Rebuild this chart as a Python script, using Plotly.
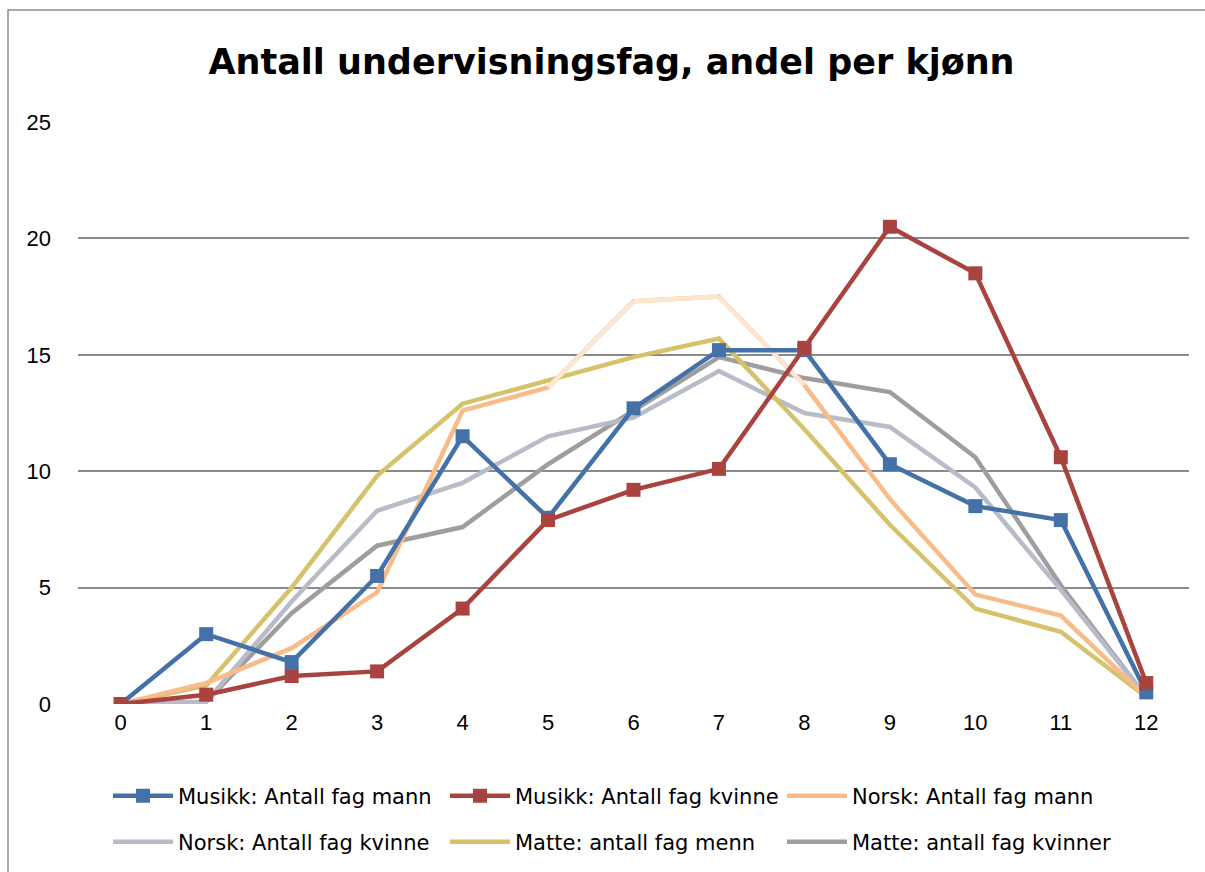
import plotly.graph_objects as go

x_vals = list(range(13))
musikk_mann = [0, 3.0, 1.8, 5.5, 11.5, 8.0, 12.7, 15.2, 15.2, 10.3, 8.5, 7.9, 0.5]
musikk_kvinne = [0, 0.4, 1.2, 1.4, 4.1, 7.9, 9.2, 10.1, 15.3, 20.5, 18.5, 10.6, 0.9]
norsk_mann = [0, 0.9, 2.4, 4.8, 12.6, 13.6, 17.3, 17.5, 13.7, 8.8, 4.7, 3.8, 0.3]
norsk_kvinne = [0, 0.1, 4.4, 8.3, 9.5, 11.5, 12.3, 14.3, 12.5, 11.9, 9.3, 4.9, 0.3]
matte_menn = [0, 0.8, 5.0, 9.8, 12.9, 13.9, 14.9, 15.7, 11.8, 7.7, 4.1, 3.1, 0.3]
matte_kvinner = [0, 0.1, 3.9, 6.8, 7.6, 10.3, 12.6, 14.9, 14.0, 13.4, 10.6, 5.1, 0.3]

fig = go.Figure()

LW = 4.5

def add(name, y, color, legend, rank, marker=False):
    fig.add_trace(go.Scatter(
        x=x_vals, y=y, name=name, legend=legend, legendrank=rank,
        mode="lines+markers" if marker else "lines",
        line=dict(color=color, width=LW),
        marker=dict(symbol="square", size=14, color=color) if marker else None,
    ))

def add_shaded(name, y, color, pale, legend, rank, thresh):
    # main trace (for legend), then pale overlay on high segments
    fig.add_trace(go.Scatter(
        x=x_vals, y=y, name=name, legend=legend, legendgroup=name, legendrank=rank,
        mode="lines", line=dict(color=color, width=LW),
    ))
    for i in range(len(x_vals) - 1):
        if (y[i] + y[i + 1]) / 2 > thresh:
            fig.add_trace(go.Scatter(
                x=x_vals[i:i + 2], y=y[i:i + 2], legendgroup=name,
                showlegend=False, mode="lines", hoverinfo="skip",
                line=dict(color=pale, width=LW),
            ))

add("Matte: antall fag kvinner", matte_kvinner, "#9E9E9E", "legend2", 6)
add("Norsk: Antall fag kvinne", norsk_kvinne, "#B8BCC8", "legend2", 4)
add("Matte: antall fag menn", matte_menn, "#D5C26A", "legend2", 5)
add_shaded("Norsk: Antall fag mann", norsk_mann, "#F9BC88", "#FCE6CF", "legend", 3, 15)
add("Musikk: Antall fag mann", musikk_mann, "#4471A8", "legend", 1, True)
add("Musikk: Antall fag kvinne", musikk_kvinne, "#A9433F", "legend", 2, True)

W, H = 1205, 872
L, R, T, B = 78, 16, 122, 168
pw = W - L - R
ph = H - T - B

leg_common = dict(
    orientation="h", xanchor="left", xref="container", yref="container",
    yanchor="middle", font=dict(size=21, family="DejaVu Sans, sans-serif", color="#000000"),
    entrywidth=262, entrywidthmode="pixels", itemwidth=60,
    traceorder="normal", bgcolor="rgba(0,0,0,0)",
)

fig.update_layout(
    width=W, height=H,
    margin=dict(l=L, r=R, t=T, b=B, autoexpand=False),
    paper_bgcolor="white", plot_bgcolor="white",
    font=dict(family="Liberation Sans, Arial, sans-serif", color="#000000", size=22),
    title=dict(
        text="<b>Antall undervisningsfag, andel per kjønn</b>",
        x=(210 + 1013) / 2 / W, xanchor="center", xref="container",
        y=1 - 62 / H, yanchor="middle", yref="container",
        font=dict(size=35, family="DejaVu Sans, sans-serif", color="#000000"),
    ),
    xaxis=dict(
        range=[-0.5, 12.5], tickmode="array", tickvals=x_vals,
        ticktext=[str(v) for v in x_vals],
        showgrid=False, zeroline=False, showline=False,
        ticks="", tickfont=dict(size=22), fixedrange=True,
        ticklabelstandoff=3,
    ),
    yaxis=dict(
        range=[0, 25], tickmode="array", tickvals=[0, 5, 10, 15, 20, 25],
        showgrid=True, gridcolor="#8A8A8A", gridwidth=1.5,
        zeroline=False, showline=False, ticks="",
        tickfont=dict(size=22), ticklabelstandoff=26,
    ),
    legend=dict(leg_common, x=108 / W, y=1 - 796 / H),
    legend2=dict(leg_common, x=108 / W, y=1 - 842 / H),
    showlegend=True,
)

# outer chart border
fig.add_shape(
    type="rect", xref="paper", yref="paper",
    x0=(8 - L) / pw, x1=(1215 - L) / pw,
    y0=-(H + 10 - (H - B)) / ph, y1=((H - B) - 10) / ph,
    line=dict(color="#8C8C8C", width=1.5), fillcolor="rgba(0,0,0,0)",
    layer="below",
)

fig.write_html(
    "out.html",
    config={"displayModeBar": False},
    post_script="document.body.style.margin='0px';document.body.style.padding='0px';",
)
